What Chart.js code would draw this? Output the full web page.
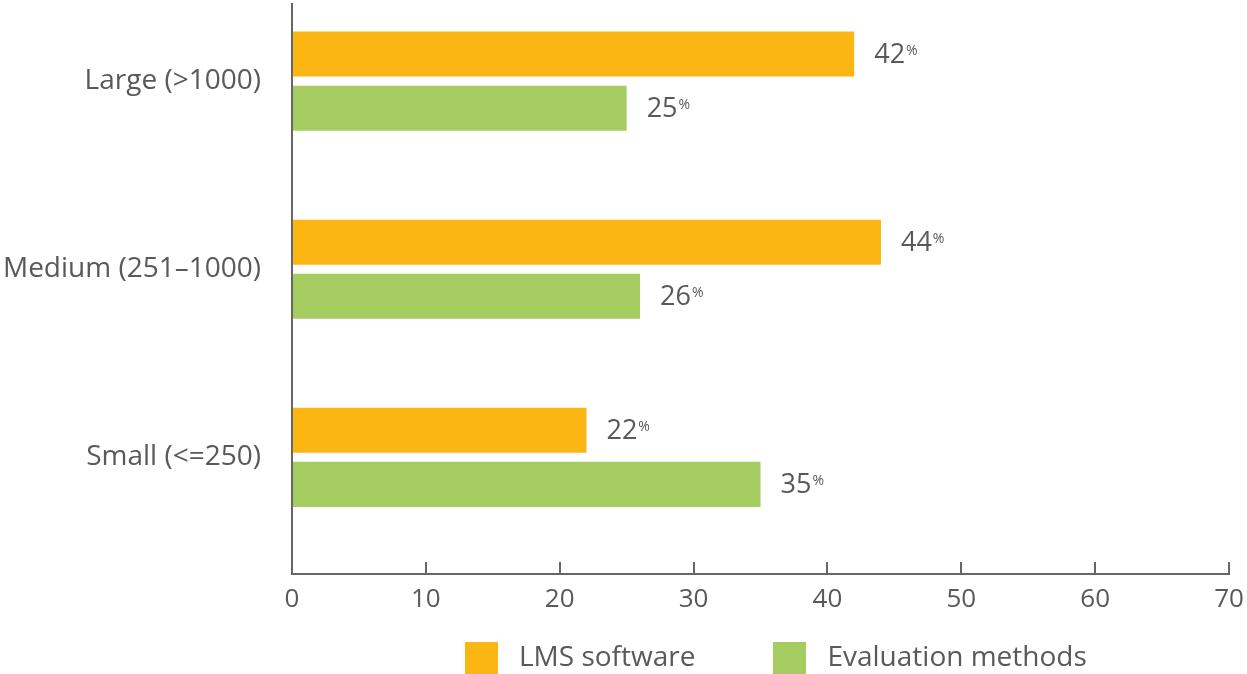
<!DOCTYPE html>
<html>
<head>
<meta charset="utf-8">
<script src="https://cdn.jsdelivr.net/npm/chart.js@4.4.0/dist/chart.umd.min.js"></script>
<style>
  html, body { margin: 0; padding: 0; background: #fff; }
  #wrap { position: relative; width: 1247px; height: 674px; }
  #chart { display: block; }
  #legend {
    position: absolute; left: 465px; top: 639px;
    display: flex; align-items: center;
    font-family: "Open Sans", sans-serif; font-size: 28px; color: #58595b;
  }
  #legend .item { display: flex; align-items: center; margin-right: 78px; }
  #legend .box { width: 33px; height: 33px; margin-right: 21px; }
  #legend .text { position: relative; top: -3px; }
</style>
</head>
<body>
<div id="wrap">
  <canvas id="chart" width="1247" height="674"></canvas>
  <div id="legend"></div>
</div>
<script>
// Company size groups and share of answers (%)
const categories = ['Large (>1000)', 'Medium (251–1000)', 'Small (<=250)'];
const lmsValues = [42, 44, 22];
const evalValues = [25, 26, 35];
const seriesNames = ['LMS software', 'Evaluation methods'];
const xTicks = [0, 10, 20, 30, 40, 50, 60, 70];

const textColor = '#58595b';
const axisColor = '#666666';
const fontFamily = '"Open Sans", sans-serif';

// Draws the "42%" labels at the end of each bar
const valueLabels = {
  id: 'valueLabels',
  afterDatasetsDraw(chart) {
    const ctx = chart.ctx;
    ctx.save();
    ctx.fillStyle = textColor;
    chart.data.datasets.forEach((ds, i) => {
      chart.getDatasetMeta(i).data.forEach((bar, j) => {
        const value = String(ds.data[j].x);
        const x = bar.x + 20;
        ctx.font = '27px ' + fontFamily;
        ctx.textAlign = 'left';
        ctx.textBaseline = 'middle';
        ctx.fillText(value, x, bar.y + 1);
        const w = ctx.measureText(value).width;
        ctx.font = '14px ' + fontFamily;
        ctx.textBaseline = 'alphabetic';
        ctx.fillText('%', x + w + 1, bar.y + 1);
      });
    });
    ctx.restore();
  }
};

const chart = new Chart(document.getElementById('chart').getContext('2d'), {
  type: 'bar',
  data: {
    datasets: [{
      label: seriesNames[0],
      data: lmsValues.map((v, i) => ({ x: v, y: i })),
      backgroundColor: '#FCB614'
    }, {
      label: seriesNames[1],
      data: evalValues.map((v, i) => ({ x: v, y: i })),
      backgroundColor: '#A4CC61'
    }]
  },
  options: {
    indexAxis: 'y',
    responsive: false,
    animation: false,
    categoryPercentage: 0.5745,
    barPercentage: 0.8333,
    layout: { padding: { top: 4, right: 18, bottom: 50, left: 0 } },
    plugins: {
      legend: { display: false },
      tooltip: { enabled: false }
    },
    scales: {
      x: {
        type: 'linear',
        min: 0,
        max: 70,
        afterBuildTicks: (scale) => { scale.ticks = xTicks.map(v => ({ value: v })); },
        afterFit: (scale) => {
          scale.height = 50;
          scale.paddingLeft = 0;
          scale.paddingRight = 0;
        },
        grid: { drawOnChartArea: false, drawTicks: true, tickLength: -12, color: axisColor, lineWidth: 2 },
        border: { display: true, color: axisColor, width: 2 },
        ticks: { padding: 22, color: textColor, font: { family: fontFamily, size: 26 } }
      },
      y: {
        type: 'linear',
        reverse: true,
        offset: false,
        min: -0.41,
        max: 2.62,
        afterBuildTicks: (scale) => { scale.ticks = categories.map((c, i) => ({ value: i })); },
        afterFit: (scale) => {
          scale.width = 292;
          scale.paddingTop = 0;
          scale.paddingBottom = 0;
        },
        grid: { display: false, drawTicks: false },
        border: { display: true, color: axisColor, width: 2 },
        ticks: {
          padding: 31,
          color: textColor,
          font: { family: fontFamily, size: 28 },
          callback: (v) => categories[v]
        }
      }
    }
  },
  plugins: [valueLabels]
});

// Legend below the chart, built from the datasets
const legend = document.getElementById('legend');
chart.data.datasets.forEach(ds => {
  const item = document.createElement('div');
  item.className = 'item';
  const box = document.createElement('span');
  box.className = 'box';
  box.style.background = ds.backgroundColor;
  const label = document.createElement('span');
  label.className = 'text';
  label.textContent = ds.label;
  item.appendChild(box);
  item.appendChild(label);
  legend.appendChild(item);
});
</script>
</body>
</html>
